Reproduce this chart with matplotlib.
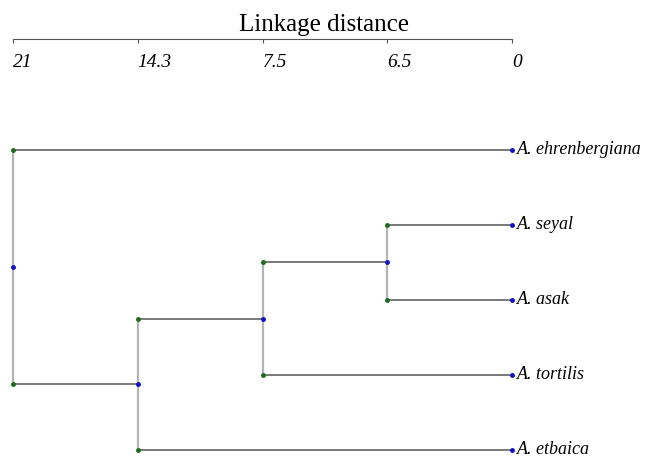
import matplotlib
matplotlib.use('Agg')
import matplotlib.pyplot as plt

plt.rcParams['font.family'] = ['Liberation Serif', 'DejaVu Serif']

# leaves, top to bottom
species = ['A. ehrenbergiana', 'A. seyal', 'A. asak', 'A. tortilis', 'A. etbaica']
# tick labels of the linkage axis (the axis is drawn with equal spacing)
dist_labels = ['21', '14.3', '7.5', '6.5', '0']
# merges: (left cluster, right cluster, linkage distance label)
merges = [
    ('A. seyal', 'A. asak', '6.5'),
    ('c1', 'A. tortilis', '7.5'),
    ('c2', 'A. etbaica', '14.3'),
    ('A. ehrenbergiana', 'c3', '21'),
]

fig = plt.figure(figsize=(6.48, 4.57), dpi=100)
ax = fig.add_axes([0, 0, 1, 1])

line_h = '#707070'
line_v = '#b4b4b4'
green = '#1d6b1d'
blue = '#1010c8'

# position of each cluster: x = index on the distance axis, y = row
pos = {}
leaf_x = dist_labels.index('0')
for i, name in enumerate(species):
    pos[name] = (leaf_x, i)

for k, (a, b, d) in enumerate(merges):
    x = dist_labels.index(d)
    xa, ya = pos[a]
    xb, yb = pos[b]
    # horizontals from children to this node
    ax.plot([x, xa], [ya, ya], color=line_h, lw=1.3, zorder=1)
    ax.plot([x, xb], [yb, yb], color=line_h, lw=1.3, zorder=1)
    # vertical
    ax.plot([x, x], [ya, yb], color=line_v, lw=1.6, zorder=1)
    ax.plot([x, x], [ya, yb], 'o', color=green, ms=2.5, zorder=3)
    ym = (ya + yb) / 2
    ax.plot([x], [ym], 'o', color=blue, ms=2.5, zorder=3)
    pos['c%d' % (k + 1)] = (x, ym)

for i, name in enumerate(species):
    ax.plot([leaf_x], [i], 'o', color=blue, ms=2.5, zorder=3)
    ax.annotate(name, xy=(leaf_x, i), xytext=(3.5, 0), textcoords='offset points',
                va='center', ha='left', fontsize=13, style='italic')

ax.set_xlim(-13 / 124.75, (648 - 13) / 124.75)
ax.set_ylim((457 - 150) / 75, -150 / 75)

for s in ['top', 'left', 'right']:
    ax.spines[s].set_visible(False)
ax.spines['bottom'].set_position(('data', (39 - 150) / 75))
ax.spines['bottom'].set_bounds(0, 4)
ax.spines['bottom'].set_color('#555555')
ax.set_yticks([])
ax.set_xticks(range(len(dist_labels)))
ax.set_xticklabels(dist_labels, fontsize=14, style='italic', ha='left')
ax.tick_params(axis='x', direction='out', length=3, pad=8, color='#555555')

fig.text(0.5, 1 - 25 / 457, 'Linkage distance', ha='center', va='center', fontsize=18)

fig.savefig('out.png', dpi=100)
